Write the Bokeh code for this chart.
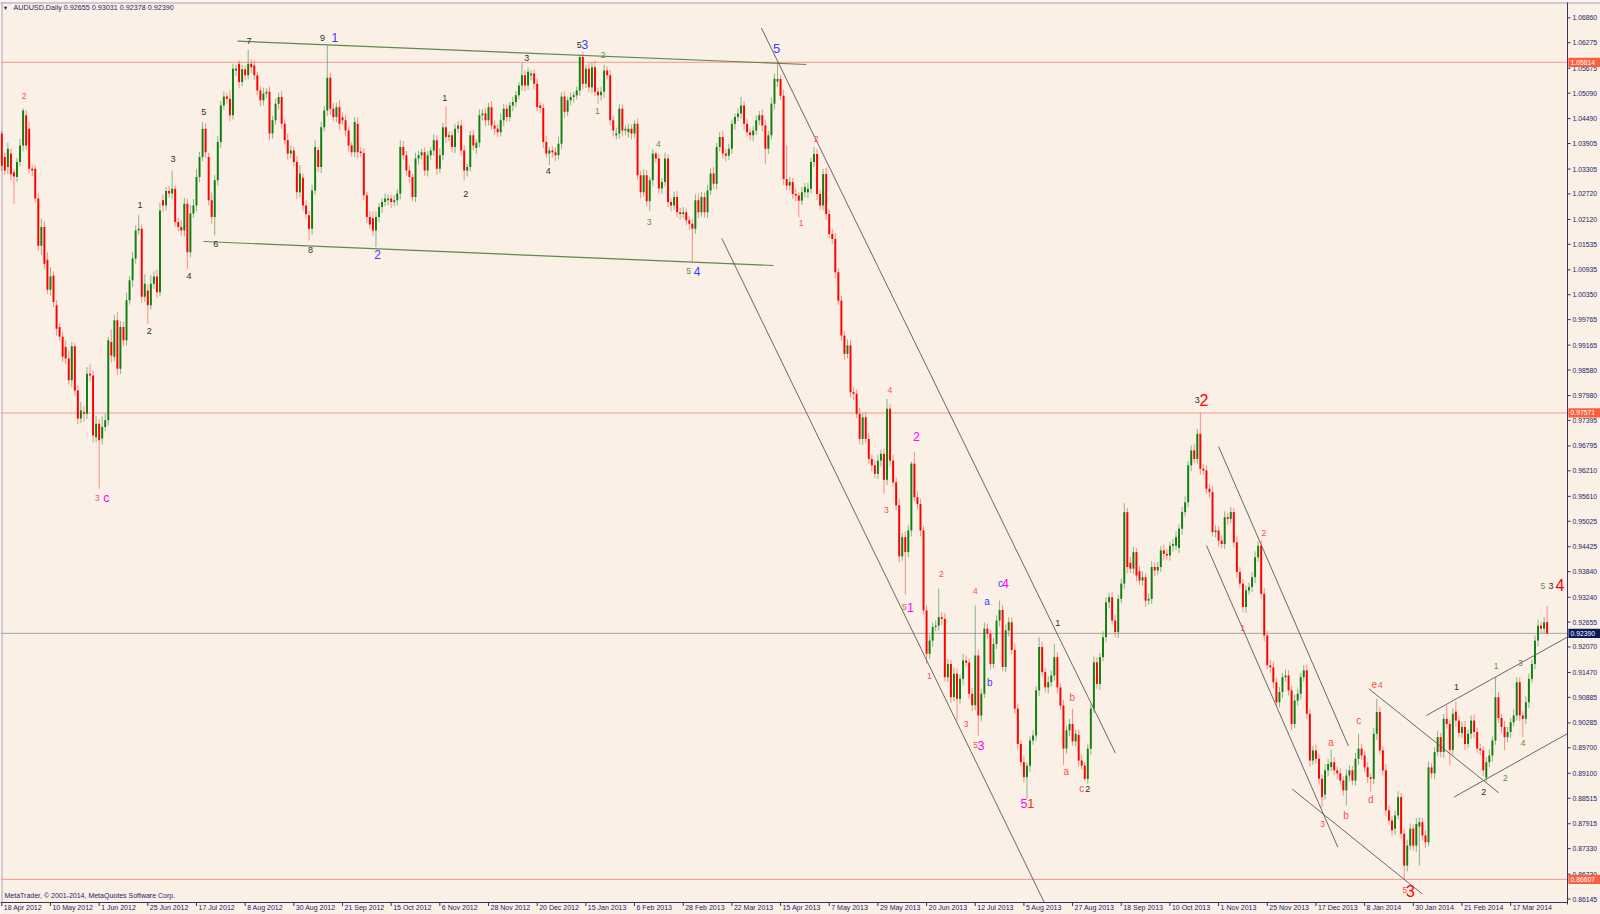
import numpy as np
from bokeh.plotting import figure
from bokeh.models import ColumnDataSource, Range1d
from bokeh.core.properties import value
from bokeh.embed import file_html
from bokeh.resources import INLINE

# ---------------- data (AUDUSD daily, values in pips = price * 10000) ----------------
SYMBOL_TITLE = "AUDUSD,Daily  0.92655 0.93031 0.92378 0.92390"
COPYRIGHT = "MetaTrader, \u00a9 2001-2014, MetaQuotes Software Corp."

OPEN_PIPS = [
    10414, 10359, 10335, 10367, 10323, 10312, 10347, 10386, 10457, 10425,
    10331, 10331, 10261, 10150, 10194, 10117, 10047, 10080, 10010, 9959,
    9936, 9912, 9885, 9834, 9914, 9810, 9744, 9759, 9755, 9849,
    9845, 9700, 9732, 9697, 9724, 9740, 9924, 9889, 9975, 9861,
    9959, 9928, 10022, 10069, 10120, 10186, 10190, 10030, 10045, 10010,
    10061, 10078, 10041, 10257, 10245, 10279, 10273, 10284, 10206, 10194,
    10186, 10249, 10135, 10226, 10245, 10312, 10359, 10425, 10359, 10257,
    10218, 10304, 10394, 10480, 10501, 10496, 10457, 10562, 10578, 10535,
    10565, 10551, 10578, 10574, 10551, 10515, 10492, 10508, 10512, 10414,
    10445, 10484, 10500, 10437, 10398, 10367, 10374, 10347, 10276, 10310,
    10245, 10222, 10190, 10280, 10375, 10335, 10429, 10468, 10545, 10472,
    10453, 10476, 10452, 10445, 10421, 10386, 10370, 10437, 10372, 10368,
    10269, 10218, 10215, 10186, 10218, 10241, 10253, 10257, 10261, 10253,
    10257, 10273, 10382, 10363, 10327, 10312, 10265, 10355, 10363, 10370,
    10327, 10363, 10374, 10398, 10331, 10363, 10429, 10406, 10410, 10382,
    10425, 10433, 10374, 10327, 10335, 10410, 10380, 10392, 10457, 10461,
    10445, 10476, 10433, 10425, 10417, 10445, 10472, 10453, 10480, 10488,
    10504, 10527, 10551, 10527, 10551, 10555, 10531, 10480, 10474, 10394,
    10367, 10374, 10370, 10363, 10390, 10501, 10465, 10492, 10500, 10504,
    10515, 10594, 10531, 10566, 10523, 10570, 10512, 10504, 10512, 10562,
    10551, 10445, 10410, 10414, 10472, 10421, 10417, 10425, 10414, 10437,
    10316, 10276, 10316, 10255, 10304, 10367, 10355, 10285, 10300, 10355,
    10253, 10245, 10265, 10229, 10225, 10229, 10210, 10202, 10190, 10257,
    10229, 10265, 10229, 10280, 10320, 10296, 10382, 10406, 10367, 10362,
    10378, 10437, 10453, 10461, 10480, 10437, 10417, 10410, 10421, 10445,
    10457, 10433, 10378, 10410, 10484, 10536, 10542, 10503, 10307, 10292,
    10300, 10272, 10268, 10256, 10276, 10276, 10284, 10347, 10366, 10272,
    10245, 10319, 10225, 10178, 10166, 10088, 10021, 9939, 9896, 9916,
    9806, 9802, 9755, 9696, 9747, 9696, 9649, 9634, 9614, 9645,
    9661, 9600, 9767, 9645, 9594, 9540, 9420, 9465, 9430, 9481,
    9638, 9559, 9543, 9481, 9293, 9191, 9222, 9254, 9257, 9277,
    9273, 9136, 9167, 9089, 9144, 9085, 9132, 9175, 9170, 9097,
    9070, 9187, 9046, 9097, 9250, 9238, 9167, 9214, 9269, 9294,
    9160, 9246, 9265, 9200, 9062, 8979, 8936, 8901, 8928, 8987,
    8999, 9105, 9207, 9148, 9112, 9124, 9140, 9183, 9112, 9069,
    8968, 9011, 9026, 8985, 9000, 8940, 8928, 8897, 8968, 9062,
    9171, 9120, 9183, 9230, 9312, 9324, 9269, 9242, 9320, 9356,
    9524, 9405, 9391, 9430, 9385, 9363, 9371, 9316, 9320, 9395,
    9387, 9395, 9434, 9426, 9422, 9445, 9445, 9440, 9485, 9524,
    9547, 9634, 9669, 9649, 9708, 9626, 9622, 9579, 9571, 9477,
    9481, 9457, 9449, 9512, 9508, 9524, 9453, 9383, 9356, 9301,
    9340, 9348, 9371, 9418, 9445, 9332, 9234, 9164, 9159, 9124,
    9077, 9101, 9136, 9140, 9105, 9026, 9081, 9097, 9136, 9152,
    9050, 8940, 8964, 8944, 8897, 8860, 8917, 8925, 8936, 8917,
    8910, 8893, 8870, 8905, 8917, 8893, 8944, 8968, 8952, 8924,
    8901, 8897, 9003, 9054, 8964, 8917, 8823, 8799, 8780, 8811,
    8854, 8768, 8693, 8740, 8780, 8740, 8785, 8795, 8764, 8748,
    8924, 8910, 8960, 8995, 8960, 9038, 9026, 8965, 9055, 9034,
    9005, 9019, 8979, 9003, 9034, 9007, 8968, 8964, 8900, 8936,
    8952, 8987, 9089, 9040, 9019, 8995, 9007, 9030, 9046, 9124,
    9046, 9038, 9077, 9132, 9167, 9222, 9257, 9250, 9265.5,
]

CLOSE_PIPS = [
    10338, 10327, 10378, 10318, 10313, 10347, 10386, 10468, 10386, 10331,
    10327, 10261, 10150, 10194, 10108, 10047, 10078, 10018, 9955, 9936,
    9889, 9885, 9834, 9914, 9810, 9744, 9763, 9755, 9849, 9845,
    9704, 9732, 9693, 9724, 9740, 9928, 9892, 9975, 9861, 9959,
    9928, 10022, 10069, 10120, 10186, 10190, 10030, 10061, 10010, 10061,
    10078, 10041, 10233, 10245, 10279, 10273, 10284, 10206, 10194, 10186,
    10249, 10135, 10226, 10245, 10312, 10359, 10425, 10370, 10257, 10218,
    10304, 10394, 10480, 10501, 10496, 10457, 10566, 10566, 10535, 10565,
    10551, 10578, 10570, 10551, 10515, 10492, 10508, 10512, 10414, 10445,
    10484, 10500, 10437, 10398, 10367, 10374, 10347, 10276, 10320, 10245,
    10225, 10190, 10280, 10382, 10335, 10429, 10468, 10545, 10472, 10453,
    10476, 10437, 10445, 10421, 10386, 10370, 10441, 10370, 10368, 10269,
    10218, 10200, 10186, 10218, 10241, 10253, 10261, 10261, 10253, 10257,
    10273, 10382, 10363, 10327, 10312, 10265, 10355, 10363, 10370, 10327,
    10363, 10374, 10398, 10331, 10363, 10429, 10406, 10410, 10382, 10425,
    10433, 10374, 10327, 10335, 10410, 10386, 10392, 10457, 10461, 10445,
    10476, 10433, 10425, 10417, 10445, 10472, 10453, 10480, 10488, 10504,
    10527, 10551, 10527, 10559, 10555, 10531, 10476, 10474, 10394, 10367,
    10374, 10370, 10363, 10390, 10501, 10465, 10492, 10500, 10504, 10515,
    10594, 10531, 10566, 10523, 10570, 10512, 10504, 10512, 10562, 10551,
    10445, 10421, 10414, 10472, 10421, 10425, 10425, 10414, 10437, 10316,
    10276, 10316, 10255, 10304, 10367, 10355, 10285, 10300, 10355, 10253,
    10245, 10265, 10229, 10225, 10229, 10210, 10202, 10190, 10257, 10229,
    10265, 10229, 10280, 10320, 10296, 10382, 10406, 10367, 10362, 10378,
    10437, 10453, 10461, 10480, 10437, 10417, 10410, 10421, 10445, 10457,
    10433, 10378, 10410, 10484, 10543, 10542, 10503, 10307, 10292, 10300,
    10272, 10268, 10256, 10276, 10288, 10284, 10347, 10366, 10272, 10245,
    10319, 10225, 10178, 10166, 10088, 10021, 9939, 9896, 9916, 9806,
    9802, 9755, 9696, 9747, 9696, 9649, 9634, 9614, 9645, 9661,
    9600, 9767, 9645, 9594, 9540, 9420, 9465, 9430, 9481, 9638,
    9559, 9543, 9481, 9293, 9191, 9222, 9254, 9257, 9277, 9273,
    9136, 9167, 9089, 9144, 9085, 9132, 9175, 9170, 9097, 9070,
    9187, 9046, 9097, 9250, 9238, 9167, 9214, 9269, 9294, 9160,
    9246, 9265, 9200, 9062, 8979, 8936, 8901, 8928, 8987, 8999,
    9105, 9207, 9148, 9112, 9124, 9140, 9183, 9112, 9069, 8968,
    9011, 9026, 8985, 9003, 8940, 8928, 8897, 8968, 9062, 9171,
    9120, 9183, 9230, 9312, 9324, 9269, 9242, 9320, 9356, 9524,
    9395, 9391, 9430, 9375, 9363, 9371, 9316, 9320, 9395, 9387,
    9395, 9434, 9426, 9422, 9445, 9449, 9465, 9485, 9524, 9547,
    9634, 9669, 9649, 9708, 9626, 9622, 9579, 9571, 9477, 9481,
    9457, 9449, 9512, 9508, 9524, 9453, 9383, 9356, 9301, 9340,
    9348, 9371, 9418, 9445, 9332, 9234, 9164, 9159, 9124, 9077,
    9101, 9136, 9140, 9105, 9026, 9081, 9097, 9136, 9152, 9050,
    8940, 8964, 8944, 8897, 8854, 8917, 8932, 8936, 8917, 8910,
    8893, 8870, 8905, 8917, 8893, 8944, 8968, 8952, 8924, 8901,
    8897, 9003, 9054, 8964, 8917, 8823, 8799, 8776, 8811, 8854,
    8768, 8693, 8740, 8780, 8740, 8791, 8795, 8764, 8748, 8924,
    8910, 8960, 8995, 8960, 9038, 9026, 8965, 9050, 9034, 9005,
    9019, 8979, 9003, 9034, 9007, 8968, 8964, 8917, 8936, 8952,
    8987, 9089, 9040, 9019, 8995, 9007, 9030, 9046, 9124, 9046,
    9038, 9077, 9132, 9167, 9222, 9257, 9250, 9265, 9239.0,
]

UPPER_WICK_PIPS = [
    6, 10, 14, 12, 8, 9, 15, 5, 12, 16,
    10, 8, 12, 20, 14, 18, 22, 10, 12, 9,
    12, 15, 18, 10, 8, 12, 20, 14, 16, 22,
    12, 18, 10, 25, 15, 8, 30, 12, 20, 14,
    12, 18, 10, 15, 12, 32, 10, 22, 14, 20,
    12, 16, 18, 14, 10, 12, 43, 8, 10, 16,
    14, 12, 20, 15, 18, 12, 16, 14, 10, 18,
    12, 14, 10, 12, 8, 20, 12, 10, 8, 10,
    9, 33, 10, 12, 8, 10, 14, 8, 12, 10,
    12, 10, 14, 10, 16, 12, 8, 14, 20, 10,
    12, 10, 14, 16, 8, 12, 10, 76, 12, 14,
    10, 16, 12, 14, 10, 8, 12, 14, 10, 12,
    8, 14, 16, 12, 10, 8, 12, 10, 8, 12,
    10, 16, 14, 10, 12, 8, 14, 10, 8, 12,
    10, 8, 14, 12, 16, 10, 49, 8, 10, 12,
    10, 14, 12, 8, 10, 12, 8, 14, 10, 12,
    10, 14, 12, 10, 16, 12, 10, 8, 12, 10,
    8, 29, 12, 10, 8, 10, 12, 8, 10, 14,
    8, 10, 12, 16, 10, 12, 8, 10, 8, 10,
    5, 12, 10, 14, 12, 16, 10, 12, 14, 10,
    12, 10, 14, 12, 10, 8, 12, 10, 8, 12,
    10, 14, 12, 8, 10, 3, 12, 10, 14, 10,
    8, 12, 14, 10, 12, 8, 10, 12, 14, 16,
    12, 10, 14, 12, 16, 10, 12, 14, 10, 12,
    10, 8, 12, 20, 10, 12, 8, 10, 12, 10,
    14, 12, 10, 14, 12, 39.4, 10, 14, 79, 12,
    10, 12, 8, 12, 10, 14, 10, 16, 12, 10,
    12, 14, 10, 12, 14, 10, 12, 10, 14, 12,
    12, 10, 14, 10, 12, 14, 10, 12, 14, 10,
    12, 23, 10, 14, 12, 16, 10, 14, 12, 5,
    27, 14, 12, 10, 12, 14, 10, 12, 67, 12,
    14, 12, 10, 14, 12, 10, 16, 12, 10, 14,
    118, 14, 12, 15, 12, 10, 14, 12, 22, 12,
    14, 12, 10, 16, 12, 10, 14, 8, 10, 12,
    10, 23, 12, 10, 14, 12, 31, 12, 10, 14,
    10, 12, 36, 10, 12, 14, 8, 12, 10, 14,
    12, 10, 14, 12, 10, 12, 14, 10, 12, 21,
    10, 14, 12, 10, 12, 14, 10, 12, 14, 10,
    12, 10, 14, 12, 10, 12, 14, 10, 12, 14,
    10, 12, 14, 12, 49.1, 10, 12, 10, 14, 12,
    10, 12, 14, 10, 12, 10, 14, 12, 10, 12,
    10, 12, 14, 10, 12, 14, 10, 12, 14, 10,
    12, 10, 14, 12, 10, 14, 12, 10, 12, 14,
    12, 10, 14, 12, 10, 14, 12, 30, 12, 10,
    12, 10, 14, 12, 10, 14, 35, 12, 10, 12,
    10, 14, 31, 12, 10, 14, 12, 10, 12, 14,
    10, 12, 14, 12, 10, 14, 12, 10, 12, 14,
    10, 12, 14, 10, 12, 32, 10, 12, 23, 10,
    12, 14, 10, 12, 14, 10, 12, 10, 12, 14,
    10, 47, 12, 10, 14, 12, 10, 14, 12, 12,
    10, 14, 12, 10, 12, 14, 10, 12, 37.6,
]

LOWER_WICK_PIPS = [
    12, 10, 16, 14, 64, 12, 10, 14, 10, 12,
    14, 10, 12, 22, 12, 10, 14, 12, 16, 10,
    12, 14, 10, 16, 12, 14, 10, 18, 12, 14,
    16, 12, 114, 14, 10, 12, 16, 10, 14, 12,
    14, 12, 10, 16, 12, 10, 14, 12, 43, 10,
    12, 14, 10, 16, 12, 10, 14, 12, 10, 12,
    14, 39, 12, 10, 14, 12, 10, 14, 12, 16,
    43, 12, 14, 10, 12, 14, 10, 12, 14, 10,
    12, 10, 14, 12, 10, 14, 12, 10, 16, 12,
    10, 14, 12, 10, 14, 12, 10, 16, 12, 14,
    12, 27, 14, 10, 12, 14, 10, 12, 14, 10,
    12, 14, 10, 12, 14, 10, 12, 14, 10, 12,
    14, 10, 12, 39, 12, 14, 10, 12, 14, 10,
    12, 14, 10, 12, 14, 10, 12, 14, 10, 12,
    14, 10, 12, 14, 10, 12, 14, 10, 12, 14,
    10, 12, 23, 14, 10, 12, 14, 10, 12, 14,
    12, 10, 14, 12, 10, 14, 12, 10, 14, 12,
    10, 12, 14, 10, 12, 14, 10, 12, 14, 10,
    27, 12, 14, 10, 12, 14, 10, 12, 14, 10,
    12, 14, 10, 12, 14, 10, 20, 12, 14, 10,
    12, 14, 10, 12, 14, 10, 12, 14, 10, 12,
    14, 10, 12, 24, 14, 10, 12, 14, 10, 12,
    14, 10, 12, 14, 10, 12, 14, 78, 12, 14,
    10, 12, 14, 10, 12, 14, 10, 12, 14, 10,
    12, 14, 10, 12, 14, 10, 12, 14, 10, 12,
    14, 35, 12, 10, 14, 12, 10, 14, 12, 10,
    12, 14, 39, 10, 12, 14, 10, 12, 14, 10,
    12, 14, 10, 12, 14, 10, 12, 14, 10, 12,
    14, 10, 12, 14, 10, 12, 14, 10, 12, 14,
    33, 12, 14, 10, 12, 14, 10, 100, 12, 14,
    10, 12, 14, 10, 24, 12, 14, 10, 12, 14,
    10, 12, 14, 10, 51, 12, 14, 10, 12, 14,
    12, 47, 14, 10, 12, 14, 10, 12, 14, 10,
    12, 14, 10, 12, 14, 10, 12, 51, 14, 10,
    12, 14, 10, 12, 14, 10, 12, 14, 10, 38,
    12, 14, 10, 12, 14, 10, 4, 12, 14, 10,
    12, 14, 10, 12, 14, 10, 12, 14, 10, 12,
    14, 10, 12, 14, 10, 12, 14, 10, 12, 14,
    10, 12, 14, 10, 12, 14, 10, 12, 14, 10,
    12, 14, 10, 12, 14, 10, 12, 14, 10, 12,
    14, 10, 12, 14, 10, 12, 14, 10, 12, 14,
    10, 12, 14, 10, 12, 14, 10, 12, 14, 10,
    12, 14, 10, 12, 14, 10, 12, 14, 10, 12,
    14, 10, 12, 14, 24, 12, 14, 10, 12, 14,
    10, 12, 36, 14, 10, 12, 14, 10, 12, 14,
    31, 12, 14, 10, 12, 14, 10, 12, 14, 10,
    12, 32.3, 14, 10, 12, 14, 92, 12, 14, 10,
    12, 14, 10, 12, 14, 10, 35, 12, 14, 10,
    12, 14, 10, 12, 14, 10, 12, 14, 10, 12,
    14, 10, 12, 14, 31, 12, 14, 10, 12, 14,
    43, 12, 14, 10, 12, 14, 10, 12, 1.2,
]

DATE_TICK_LABELS = [
    "18 Apr 2012", "10 May 2012", "1 Jun 2012", "25 Jun 2012", "17 Jul 2012", "8 Aug 2012",
    "30 Aug 2012", "21 Sep 2012", "15 Oct 2012", "6 Nov 2012", "28 Nov 2012", "20 Dec 2012",
    "15 Jan 2013", "6 Feb 2013", "28 Feb 2013", "22 Mar 2013", "15 Apr 2013", "7 May 2013",
    "29 May 2013", "20 Jun 2013", "12 Jul 2013", "5 Aug 2013", "27 Aug 2013", "18 Sep 2013",
    "10 Oct 2013", "1 Nov 2013", "25 Nov 2013", "17 Dec 2013", "8 Jan 2014", "30 Jan 2014",
    "21 Feb 2014", "17 Mar 2014",
]
DATE_TICK_EVERY = 16  # bars between date labels

PRICE_TICKS = [
    1.06860, 1.06275, 1.05675, 1.05090, 1.04490, 1.03905, 1.03305, 1.02720, 1.02120,
    1.01535, 1.00935, 1.00350, 0.99765, 0.99165, 0.98580, 0.97980, 0.97395, 0.96795,
    0.96210, 0.95610, 0.95025, 0.94425, 0.93840, 0.93240, 0.92655, 0.92070, 0.91470,
    0.90885, 0.90285, 0.89700, 0.89100, 0.88515, 0.87915, 0.87330, 0.86730, 0.86145,
]

MARKED_LEVELS = [1.05814, 0.97571, 0.86607]
LAST_PRICE = 0.92390

# trend lines: (bar, price) -> (bar, price)
GREEN_LINES = [
    ((77.5, 1.06310), (264.5, 1.05762)),
    ((66.3, 1.01601), (253.7, 1.01037)),
]
GRAY_LINES = [
    ((249.7, 1.06620), (366.1, 0.89573)),
    ((236.7, 1.01672), (342.7, 0.86063)),
    ((400.0, 0.96782), (442.7, 0.89740)),
    ((396.0, 0.94455), (439.2, 0.87363)),
    ((424.2, 0.88729), (466.9, 0.86267)),
    ((449.4, 0.91087), (492.1, 0.88642)),
    ((468.3, 0.90459), (514.6, 0.92300)),
    ((477.3, 0.88538), (514.6, 0.90029)),
]

# wave labels: (bar, price, text, style)
WAVE_LABELS = [
    (7.3, 1.05033, "2", "r"), (31.4, 0.95583, "3", "r"), (34.4, 0.95583, "c", "m"),
    (45.4, 1.02464, "1", "k"), (48.5, 0.99509, "2", "k"), (56.3, 1.03545, "3", "k"),
    (61.5, 1.00779, "4", "k"), (66.4, 1.04641, "5", "k"), (70.3, 1.01547, "6", "k"),
    (81.3, 1.06310, "7", "k"), (105.4, 1.06390, "9", "k"), (109.5, 1.06390, "1", "b"),
    (101.5, 1.01390, "8", "k"), (123.5, 1.01289, "2", "b"), (145.6, 1.04979, "1", "k"),
    (152.5, 1.02723, "2", "k"), (172.6, 1.05920, "3", "k"), (189.8, 1.06232, "5", "k"),
    (191.7, 1.06232, "3", "b"), (197.7, 1.05990, "2", "g"), (195.8, 1.04664, "1", "g"),
    (179.6, 1.03270, "4", "k"), (215.8, 1.03898, "4", "g"), (212.8, 1.02055, "3", "g"),
    (225.8, 1.00903, "5", "g"), (228.6, 1.00903, "4", "b"), (254.7, 1.06145, "5", "B"),
    (262.8, 1.02032, "1", "r"), (267.8, 1.04016, "2", "r"), (291.9, 0.98115, "4", "r"),
    (290.8, 0.95278, "3", "r"), (300.7, 0.97017, "2", "m"), (296.7, 0.93005, "5", "r"),
    (298.7, 0.93005, "1", "m"), (308.9, 0.93790, "2", "r"), (304.9, 0.91399, "1", "r"),
    (320.0, 0.93381, "4", "r"), (317.0, 0.90264, "3", "r"), (320.1, 0.89754, "5", "r"),
    (321.9, 0.89754, "3", "m"), (323.9, 0.93146, "a", "bl"), (324.8, 0.91228, "b", "bl"),
    (328.3, 0.93569, "c", "bl"), (329.9, 0.93555, "4", "m"), (347.1, 0.92629, "1", "k"),
    (351.9, 0.90889, "b", "rl"), (349.9, 0.89143, "a", "rl"), (355.0, 0.88750, "c", "rl"),
    (357.0, 0.88720, "2", "k"), (336.0, 0.88383, "5", "m"), (338.3, 0.88383, "1", "Rm"),
    (393.0, 0.97880, "3", "k"), (395.2, 0.97880, "2", "R"), (408.0, 0.92521, "1", "r"),
    (414.9, 0.94754, "2", "r"), (437.0, 0.89831, "a", "rl"), (441.9, 0.88108, "b", "rl"),
    (446.1, 0.90341, "c", "rl"), (450.0, 0.88477, "d", "rl"), (451.2, 0.91188, "e", "rl"),
    (453.2, 0.91165, "4", "r"), (434.2, 0.87904, "3", "r"), (461.2, 0.86362, "5", "r"),
    (463.1, 0.86329, "3", "R"), (478.2, 0.91124, "1", "k"), (487.2, 0.88656, "2", "k"),
    (491.2, 0.91611, "1", "g"), (494.3, 0.88994, "2", "g"), (499.2, 0.91688, "3", "g"),
    (500.1, 0.89808, "4", "g"), (506.6, 0.93498, "5", "g"), (509.3, 0.93498, "3", "k"),
    (512.2, 0.93538, "4", "R"),
]

LABEL_STYLES = {
    "k": ("#2e2e2e", "9px"),
    "g": ("#5e8f36", "8.5px"),
    "r": ("#ff4d4d", "8.5px"),
    "rl": ("#ff4d4d", "10px"),
    "R": ("#ff0000", "16px"),
    "Rm": ("#ff2020", "12px"),
    "b": ("#3c3cff", "12px"),
    "bl": ("#3c3cff", "10px"),
    "B": ("#3c3cff", "13px"),
    "m": ("#ff00ff", "12.5px"),
}

# ---------------- styling / layout ----------------
BG = "#FAF0E6"
NAVY = "#1c1c6e"
AXIS_COL = "#34345a"
BORDER_COL = "#a6a2b8"
FONT = "Liberation Sans"
BULL_BODY, BULL_WICK = "#0f800f", "#3d8f3d"
BEAR_BODY, BEAR_WICK = "#ff0000", "#ff3a3a"

# the page template puts the figure at the window's top-left corner, so it can fill the window
W, H = 1600, 914
# calibration of the MetaTrader window (window pixels -> bar index / price)
REF_PX_PER_BAR = 3.042
REF_PX_PER_PRICE = 4254.0
REF_W, REF_H = 1600, 914


def rx(px):
    return (px - 1.3) / REF_PX_PER_BAR


def ry(py):
    return 1.06860 - (py - 17.3) / REF_PX_PER_PRICE


X0, X1 = rx(0), rx(REF_W)
Y0, Y1 = ry(REF_H), ry(0)
AXIS_X = rx(1567)          # price scale line
BOTTOM_Y = ry(902)         # time scale line
PXY = (Y1 - Y0) / H

n = min(len(OPEN_PIPS), len(CLOSE_PIPS), len(UPPER_WICK_PIPS), len(LOWER_WICK_PIPS))
o = np.array(OPEN_PIPS[:n], dtype=float) / 10000.0
c = np.array(CLOSE_PIPS[:n], dtype=float) / 10000.0
hi = np.maximum(o, c) + np.array(UPPER_WICK_PIPS[:n], dtype=float) / 10000.0
lo = np.minimum(o, c) - np.array(LOWER_WICK_PIPS[:n], dtype=float) / 10000.0
idx = np.arange(n, dtype=float)

body_top = np.maximum(o, c)
body_bot = np.minimum(o, c)
min_h = 1.0 * PXY
thin = (body_top - body_bot) < min_h
mid = (body_top + body_bot) / 2
body_top = np.where(thin, mid + min_h / 2, body_top)
body_bot = np.where(thin, mid - min_h / 2, body_bot)

p = figure(width=W, height=H, output_backend="svg", toolbar_location=None,
           x_range=Range1d(X0, X1), y_range=Range1d(Y0, Y1),
           x_axis_location=None, y_axis_location=None,
           min_border_left=0, min_border_right=0, min_border_top=0, min_border_bottom=0)
p.background_fill_color = BG
p.border_fill_color = BG
p.outline_line_color = None
p.xgrid.visible = False
p.ygrid.visible = False

# ---- window borders (left / top) ----
p.segment(x0=[rx(1.5), rx(0)], y0=[ry(2), ry(2.5)], x1=[rx(1.5), rx(REF_W)], y1=[BOTTOM_Y, ry(2.5)],
          line_color=BORDER_COL, line_width=1)

# ---- horizontal levels (stop at the price scale) ----
p.segment(x0=[X0] * len(MARKED_LEVELS), y0=MARKED_LEVELS, x1=[AXIS_X] * len(MARKED_LEVELS), y1=MARKED_LEVELS,
          line_color="#f4978e", line_width=1)
p.segment(x0=[X0], y0=[LAST_PRICE], x1=[AXIS_X], y1=[LAST_PRICE], line_color="#a4a4a4", line_width=1)

# ---- candles ----
inc = c >= o
dec = ~inc
p.segment(x0=idx[inc], y0=hi[inc], x1=idx[inc], y1=lo[inc], line_color=BULL_WICK, line_alpha=0.6, line_width=1)
p.segment(x0=idx[dec], y0=hi[dec], x1=idx[dec], y1=lo[dec], line_color=BEAR_WICK, line_alpha=0.55, line_width=1)
p.vbar(x=idx[inc], width=0.64, top=body_top[inc], bottom=body_bot[inc], fill_color=BULL_BODY, line_color=None)
p.vbar(x=idx[dec], width=0.64, top=body_top[dec], bottom=body_bot[dec], fill_color=BEAR_BODY, line_color=None)

# ---- trend lines ----
p.segment(x0=[a[0] for a, b in GREEN_LINES], y0=[a[1] for a, b in GREEN_LINES],
          x1=[b[0] for a, b in GREEN_LINES], y1=[b[1] for a, b in GREEN_LINES],
          line_color="#4f7d3c", line_width=1.2, line_alpha=0.9)
p.segment(x0=[a[0] for a, b in GRAY_LINES], y0=[a[1] for a, b in GRAY_LINES],
          x1=[b[0] for a, b in GRAY_LINES], y1=[b[1] for a, b in GRAY_LINES],
          line_color="#5a5a5a", line_width=1, line_alpha=0.9)

# ---- wave labels ----
lab_src = ColumnDataSource(dict(
    x=[w[0] for w in WAVE_LABELS],
    y=[w[1] for w in WAVE_LABELS],
    text=[w[2] for w in WAVE_LABELS],
    color=[LABEL_STYLES[w[3]][0] for w in WAVE_LABELS],
    size=[LABEL_STYLES[w[3]][1] for w in WAVE_LABELS],
))
p.text(x="x", y="y", text="text", text_color="color", text_font_size="size",
       text_font=value(FONT), text_align="center", text_baseline="middle", source=lab_src)

# ---- time scale (bottom) ----
date_ticks = [k * DATE_TICK_EVERY for k in range(len(DATE_TICK_LABELS))]
p.segment(x0=[X0], y0=[BOTTOM_Y], x1=[AXIS_X], y1=[BOTTOM_Y], line_color=AXIS_COL, line_width=1)
p.segment(x0=date_ticks, y0=[BOTTOM_Y] * len(date_ticks), x1=date_ticks, y1=[ry(905.5)] * len(date_ticks),
          line_color=AXIS_COL, line_width=1)
p.text(x=date_ticks, y=[ry(907)] * len(date_ticks), text=DATE_TICK_LABELS, x_offset=2,
       text_font=value(FONT), text_font_size="7px", text_color=NAVY,
       text_align="left", text_baseline="middle")

# ---- price scale (right) ----
tick_len = 3.0 / REF_PX_PER_BAR
p.segment(x0=[AXIS_X], y0=[ry(2)], x1=[AXIS_X], y1=[ry(904)], line_color=AXIS_COL, line_width=1)
p.segment(x0=[AXIS_X] * len(PRICE_TICKS), y0=PRICE_TICKS, x1=[AXIS_X + tick_len] * len(PRICE_TICKS), y1=PRICE_TICKS,
          line_color=AXIS_COL, line_width=1)
p.text(x=[AXIS_X + 5.0 / REF_PX_PER_BAR] * len(PRICE_TICKS), y=PRICE_TICKS,
       text=["%.5f" % t for t in PRICE_TICKS], text_font=value(FONT), text_font_size="6.8px",
       text_color=NAVY, text_align="left", text_baseline="middle")

tag_half = 4.6 / REF_PX_PER_PRICE
tag_levels = MARKED_LEVELS + [LAST_PRICE]
tag_colors = ["#f8603f"] * len(MARKED_LEVELS) + ["#0c1a5a"]
p.quad(left=[AXIS_X + 0.3] * len(tag_levels), right=[X1 + 1] * len(tag_levels),
       bottom=[lv - tag_half for lv in tag_levels], top=[lv + tag_half for lv in tag_levels],
       fill_color=tag_colors, line_color=None)
p.text(x=[AXIS_X + 3.0 / REF_PX_PER_BAR] * len(tag_levels), y=tag_levels,
       text=["%.5f" % lv for lv in tag_levels], text_font=value(FONT), text_font_size="6.8px",
       text_color="white", text_align="left", text_baseline="middle")

# ---- title and copyright ----
p.text(x=[rx(5)], y=[ry(7)], text=["\u25BC"], text_font=value(FONT), text_font_size="5.5px",
       text_color=NAVY, text_align="center", text_baseline="middle")
p.text(x=[rx(13)], y=[ry(7)], text=[SYMBOL_TITLE], text_font=value(FONT), text_font_size="7.2px",
       text_color=NAVY, text_align="left", text_baseline="middle")
p.text(x=[rx(4)], y=[ry(894.5)], text=[COPYRIGHT], text_font=value(FONT), text_font_size="7px",
       text_color=NAVY, text_align="left", text_baseline="middle")

open("out.html", "w").write(file_html(p, INLINE, title="AUDUSD Daily"))
